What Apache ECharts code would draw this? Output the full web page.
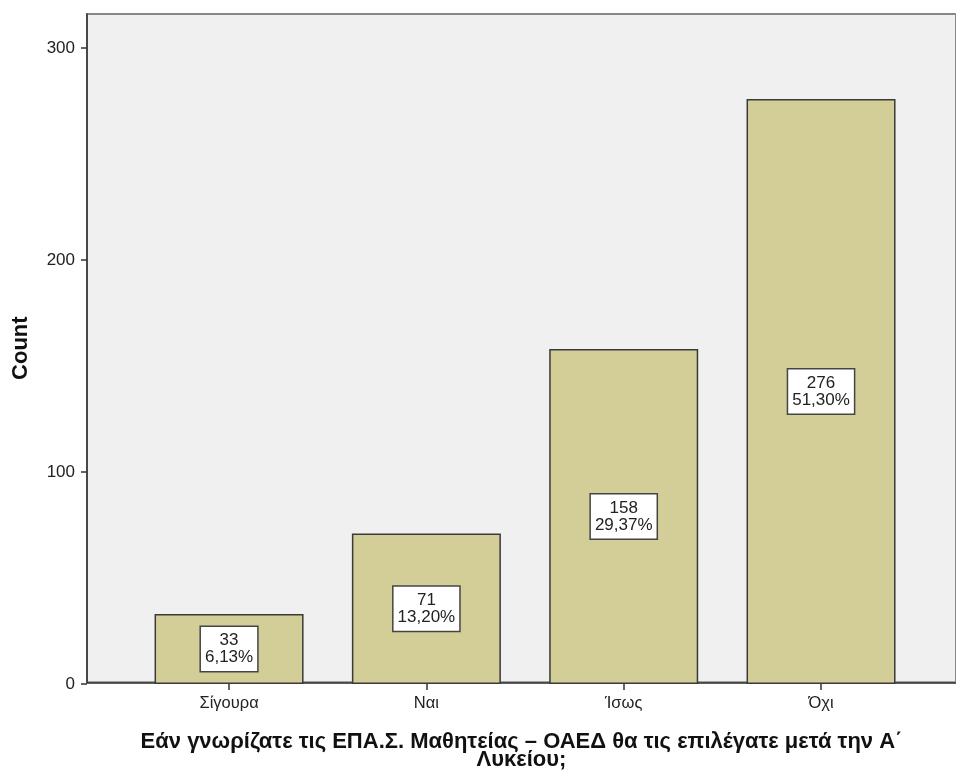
<!DOCTYPE html>
<html>
<head>
<meta charset="utf-8">
<script src="https://cdn.jsdelivr.net/npm/echarts@6/dist/echarts.min.js"></script>
<style>
html,body{margin:0;padding:0;background:#fff;}
#c{width:956px;height:776px;}
</style>
</head>
<body>
<div id="c"></div>
<script>
var categories = ['Σίγουρα', 'Ναι', 'Ίσως', 'Όχι'];
var counts = [33, 71, 158, 276];
var percents = ['6,13%', '13,20%', '29,37%', '51,30%'];
var yTicks = [0, 100, 200, 300];
var xTitle = 'Εάν γνωρίζατε τις ΕΠΑ.Σ. Μαθητείας – ΟΑΕΔ θα τις επιλέγατε μετά την Α΄\nΛυκείου;';
var yTitle = 'Count';

var FONT = '"Liberation Sans", Arial, sans-serif';
var chart = echarts.init(document.getElementById('c'), null, {renderer: 'canvas'});
chart.setOption({
  animation: false,
  textStyle: {fontFamily: FONT},
  grid: [
    {left: 87, top: 14, right: -3, bottom: 92, show: true, backgroundColor: '#f0f0f0', borderColor: '#888', borderWidth: 2, z: 0},
    {left: 130.4, width: 789.3, top: 48, bottom: 92}
  ],
  xAxis: [
    {type: 'value', gridIndex: 0, min: 0, max: 1, show: true,
     axisLine: {show: true, onZero: false, lineStyle: {color: '#333', width: 1.5}},
     axisTick: {show: false}, axisLabel: {show: false}, splitLine: {show: false},
     name: xTitle, nameLocation: 'middle', nameGap: 50,
     nameTextStyle: {fontFamily: FONT, fontSize: 22, fontWeight: 'bold', color: '#111', lineHeight: 18.5}},
    {type: 'category', gridIndex: 1, data: categories,
     axisLine: {show: false}, axisTick: {show: true, alignWithLabel: true, length: 6, lineStyle: {color: '#333', width: 1.5}},
     axisLabel: {fontFamily: FONT, fontSize: 16.5, color: '#222', margin: 11}}
  ],
  yAxis: [
    {type: 'value', gridIndex: 0, min: 0, max: 1,
     axisLine: {show: true, lineStyle: {color: '#333', width: 1.5}},
     axisTick: {show: false}, axisLabel: {show: false}, splitLine: {show: false},
     name: yTitle, nameLocation: 'middle', nameGap: 55, nameRotate: 90,
     nameTextStyle: {fontFamily: FONT, fontSize: 22, fontWeight: 'bold', color: '#111'}},
    {type: 'value', gridIndex: 1, min: 0, max: 300, interval: 100, offset: 43.4,
     axisLine: {show: false},
     axisTick: {show: true, length: 6, lineStyle: {color: '#333', width: 1.5}},
     axisLabel: {fontFamily: FONT, fontSize: 17, color: '#222', margin: 12,
       formatter: function(v){ return yTicks.indexOf(v) >= 0 ? String(v) : ''; }},
     splitLine: {show: false}}
  ],
  series: [{
    type: 'bar', xAxisIndex: 1, yAxisIndex: 1,
    data: counts, barWidth: 149,
    itemStyle: {color: '#d3ce97', borderColor: '#3a3a3a', borderWidth: 1.5},
    label: {
      show: true, position: 'inside',
      formatter: function(p){ return counts[p.dataIndex] + '\n' + percents[p.dataIndex]; },
      fontFamily: FONT, fontSize: 17, lineHeight: 17, color: '#222',
      backgroundColor: '#fff', borderColor: '#444', borderWidth: 1.5,
      padding: [6, 4, 4, 4], align: 'center'
    }
  }]
});
</script>
</body>
</html>
